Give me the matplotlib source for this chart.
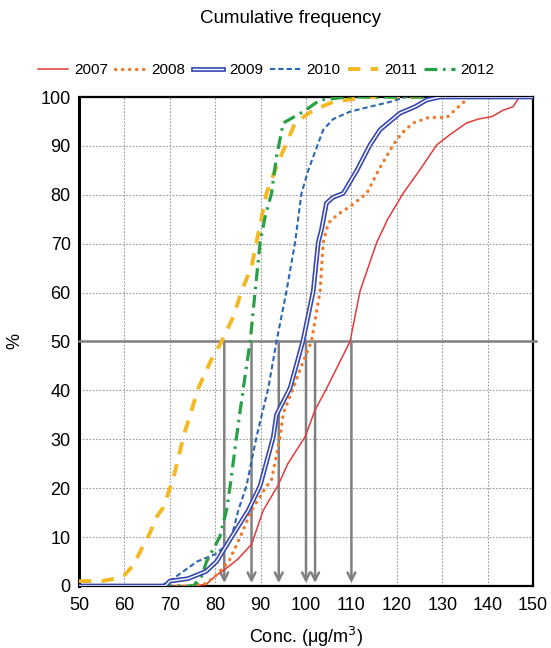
import matplotlib
matplotlib.use("Agg")
import matplotlib.pyplot as plt
import matplotlib.patheffects as pe

plt.rcParams['font.family'] = ['Liberation Sans', 'DejaVu Sans']

# data (conc. in ug/m3, cumulative %)
x2007 = [50, 75, 78, 80, 83, 85, 88, 90.6, 93.8, 96, 99.8, 102, 104.6, 107, 109.7, 111.9, 115.6, 118,
         121.4, 125, 128.8, 132, 135.4, 138, 141, 143.4, 145.6, 147, 150]
y2007 = [0, 0, 0.3, 2, 4, 5.5, 8.5, 15.5, 20.5, 25, 30.5, 36, 40.5, 45, 50, 60.3, 70.3, 75,
         80.3, 85, 90.2, 92.5, 94.7, 95.5, 96, 97.3, 98, 100, 100]

x2008 = [50, 74, 78, 80, 83, 85.5, 88, 91.4, 92.4, 94.3, 95, 97.2, 99, 101.2, 103.1, 103.8, 104.9,
         107, 109.7, 113.4, 115.9, 119.2, 121, 123.6, 127, 131, 133, 136, 150]
y2008 = [0, 0, 0.5, 2, 5, 10, 15.5, 20.5, 21.7, 30.5, 35.3, 40.5, 45, 50, 60.3, 70.3, 74.2,
         76, 77.6, 80.3, 84.9, 90.2, 92.5, 94.7, 95.8, 95.8, 97.5, 100, 100]

x2009 = [50, 69, 70, 74, 78, 80.3, 83.6, 87.3, 89.9, 92.8, 93.5, 96.5, 99.3, 101.6, 102.7, 103.4,
         104.5, 106, 108.2, 111.2, 114.1, 116.3, 120.7, 124, 126.6, 129.5, 150]
y2009 = [0, 0, 1, 1.5, 3, 5, 10, 15.5, 20.5, 30.5, 35, 40.5, 50, 60.3, 70.3, 72.8,
         78.3, 79.5, 80.3, 85, 90.2, 93.3, 96.7, 98, 99.4, 100, 100]

x2010 = [50, 68, 70, 73, 76, 80, 82, 83.6, 85.1, 86.9, 89.1, 91.7, 93.5, 95.7, 97.6, 99, 100.5,
         101.6, 103.8, 106, 109.7, 114, 118.5, 122, 150]
y2010 = [0, 0, 1, 3, 5, 6.5, 8, 10, 15.5, 20.5, 30.5, 40.5, 50, 60.3, 70.3, 80.3, 85,
         87.8, 93.3, 95.5, 97, 98, 99, 100, 100]

x2011 = [50, 55, 58, 60, 62, 64, 65.6, 67, 68.5, 70.7, 73, 76.3, 79, 81.4, 84, 85.8, 88, 89.1,
         91.3, 93.5, 95.4, 97.6, 101.6, 106, 113.4, 150]
y2011 = [1, 1, 1.5, 2.2, 4.3, 8, 10.8, 14, 16, 21.7, 30.5, 40.5, 46, 50, 55.1, 60.3, 65.3, 70.3,
         80.3, 85.8, 89.9, 94.7, 97.3, 99, 100, 100]

x2012 = [50, 75.2, 77, 78.1, 81, 82.5, 83.3, 84.7, 86.2, 87.7, 88.8, 89.9, 91, 92.4, 93.5, 95,
         99.4, 103.1, 109, 150]
y2012 = [0, 0, 2, 5, 10, 15.5, 20.5, 30.5, 40.5, 50, 60.3, 70.3, 75.5, 80.3, 87.8, 94.7,
         97, 99.4, 100, 100]

# 50 % values (arrows)
medians = [110, 102, 100, 94, 82, 88]

fig = plt.figure(figsize=(5.51, 6.48), dpi=100)
ax = fig.add_axes([0.1434, 0.0957, 0.8239, 0.7546])

ax.plot(x2007, y2007, color='#e23b3b', lw=1.1, label='2007', zorder=5)
ax.plot(x2008, y2008, color='#f07a2c', lw=2.4, linestyle=(0, (0.1, 2.0)),
        dash_capstyle='round', label='2008', zorder=5)
ax.plot(x2009, y2009, color='white', lw=1.0, label='2009', zorder=6,
        path_effects=[pe.Stroke(linewidth=3.4, foreground='#3747b0'), pe.Normal()])
ax.plot(x2010, y2010, color='#2a68b3', lw=1.5, linestyle=(0, (2.5, 1.5)), label='2010', zorder=5)
ax.plot(x2011, y2011, color='#f4b823', lw=2.8, linestyle=(0, (3.2, 2.6)), label='2011', zorder=4)
ax.plot(x2012, y2012, color='#27a046', lw=2.3, linestyle=(0, (4, 1.8, 0.8, 1.8)),
        label='2012', zorder=5)

# horizontal 50 % line and arrows down to the axis
ax.plot([50, 150.6], [50, 50], color='#808080', lw=1.8, clip_on=False, zorder=3)
for m in medians:
    ax.annotate('', xy=(m, 0.6), xytext=(m, 50),
                arrowprops=dict(arrowstyle='->', color='#808080', lw=1.8,
                                mutation_scale=14, shrinkA=0, shrinkB=0), zorder=3)

ax.set_xlim(50, 150)
ax.set_ylim(0, 100)
ax.set_xticks(range(50, 151, 10))
ax.set_yticks(range(0, 101, 10))
ax.grid(True, color='#9a9a9a', linestyle=(0, (1.5, 1.5)), lw=0.8)
ax.tick_params(length=0, labelsize=13)
ax.tick_params(axis='x', pad=8)
ax.tick_params(axis='y', pad=6)
for s in ax.spines.values():
    s.set_linewidth(1.6)
    s.set_color('black')
ax.spines['left'].set_linewidth(2.2)

ax.set_xlabel('Conc. ($\\mathregular{\\mu}$g/m$^3$)', fontsize=13, labelpad=8)
ax.set_ylabel('%', fontsize=13, labelpad=12)

fig.text(0.527, 0.972, 'Cumulative frequency', ha='center', va='center', fontsize=13.5)
fig.legend(loc='center', bbox_to_anchor=(0.483, 0.892), ncol=6, frameon=False,
           fontsize=11, handlelength=2.0, handletextpad=0.4, columnspacing=0.45)

fig.savefig('out.png', dpi=100)
